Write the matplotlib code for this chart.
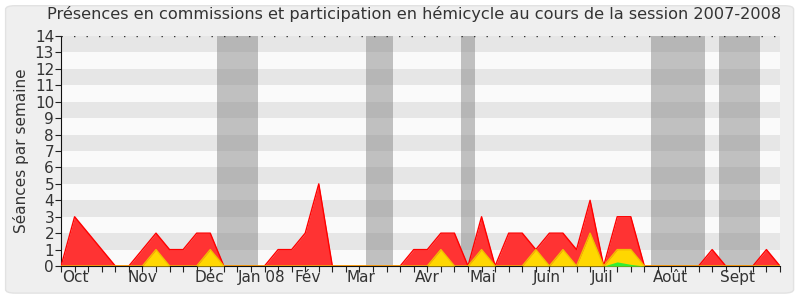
import matplotlib
matplotlib.use("Agg")
import matplotlib.pyplot as plt
from matplotlib.patches import FancyBboxPatch
import numpy as np

# weekly values, session 2007-2008 (54 weeks)
weeks = np.arange(54)
total = [0, 3, 2, 1, 0, 0, 1, 2, 1, 1,
         2, 2, 0, 0, 0, 0, 1, 1, 2, 5,
         0, 0, 0, 0, 0, 0, 1, 1, 2, 2,
         0, 3, 0, 2, 2, 1, 2, 2, 1, 4,
         0, 3, 3, 0, 0, 0, 0, 0, 1, 0,
         0, 0, 1, 0]
hemicycle = [0, 0, 0, 0, 0, 0, 0, 1, 0, 0,
             0, 1, 0, 0, 0, 0, 0, 0, 0, 0,
             0, 0, 0, 0, 0, 0, 0, 0, 1, 0,
             0, 1, 0, 0, 0, 1, 0, 1, 0, 2,
             0, 1, 1, 0, 0, 0, 0, 0, 0, 0,
             0, 0, 0, 0]
interventions = [0] * 40 + [0, 0.25, 0.1] + [0] * 11

# holidays (start, end) in week units
vacances = [(11.5, 14.5), (22.5, 24.5), (29.5, 30.5), (43.5, 47.5), (48.5, 51.5)]

months = ["Oct", "Nov", "Déc", "Jan 08", "Fév", "Mar", "Avr", "Mai", "Juin", "Juil", "Août", "Sept"]
month_pos = [1.05, 5.96, 10.95, 14.8, 18.2, 22.1, 27.02, 31.1, 35.8, 39.9, 44.9, 49.9]

fig = plt.figure(figsize=(8, 3), dpi=100, facecolor="white")
fig.patches.append(FancyBboxPatch((0.007, 0.023), 0.985, 0.958, boxstyle="round,pad=0,rounding_size=0.012",
                                  transform=fig.transFigure, facecolor="#efefef", edgecolor="#e2e2e2",
                                  linewidth=1, zorder=-10))

ax = fig.add_axes([0.0763, 0.1133, 0.8987, 0.7667])
ax.set_facecolor("#fafafa")

for k in range(1, 14, 2):
    ax.axhspan(k, k + 1, color="#e6e6e6", lw=0, zorder=0)
for a, b in vacances:
    ax.axvspan(a, b, color="#888888", alpha=0.5, lw=0, zorder=1)

ax.fill_between(weeks, 0, total, color="#ff3333", lw=0, zorder=2)
ax.plot(weeks, total, color="#ff0000", lw=1, zorder=3)
ax.fill_between(weeks, 0, hemicycle, color="#ffd700", lw=0, zorder=4)
ax.plot(weeks, hemicycle, color="#f0c000", lw=1, zorder=5)
ax.fill_between(weeks, 0, interventions, color="#33ee33", lw=0, zorder=6)

ax.axhline(14, color="#333333", lw=1, ls=(0, (1, 8)), zorder=7)

ax.set_xlim(0, 53)
ax.set_ylim(0, 14)
ax.set_yticks(range(15))
ax.set_xticks(weeks)
ax.set_xticklabels([])
ax.set_xticks(month_pos, minor=True)
ax.set_xticklabels(months, minor=True)
ax.tick_params(axis="x", which="major", length=4, direction="out", color="#222222")
ax.tick_params(axis="x", which="minor", length=0, pad=3, labelsize=11, labelcolor="#333333")
ax.tick_params(axis="y", length=4, direction="out", pad=1, labelsize=11, labelcolor="#333333", color="#222222")

for s in ["top", "right"]:
    ax.spines[s].set_visible(False)
ax.spines["left"].set_color("#111111")
ax.spines["bottom"].set_color("#111111")

ax.set_ylabel("Séances par semaine", fontsize=11, color="#333333", labelpad=4)
fig.text(0.517, 0.953, "Présences en commissions et participation en hémicycle au cours de la session 2007-2008",
         ha="center", va="center", fontsize=11.6, color="#333333")

fig.savefig("out.png", dpi=100, facecolor=fig.get_facecolor())
